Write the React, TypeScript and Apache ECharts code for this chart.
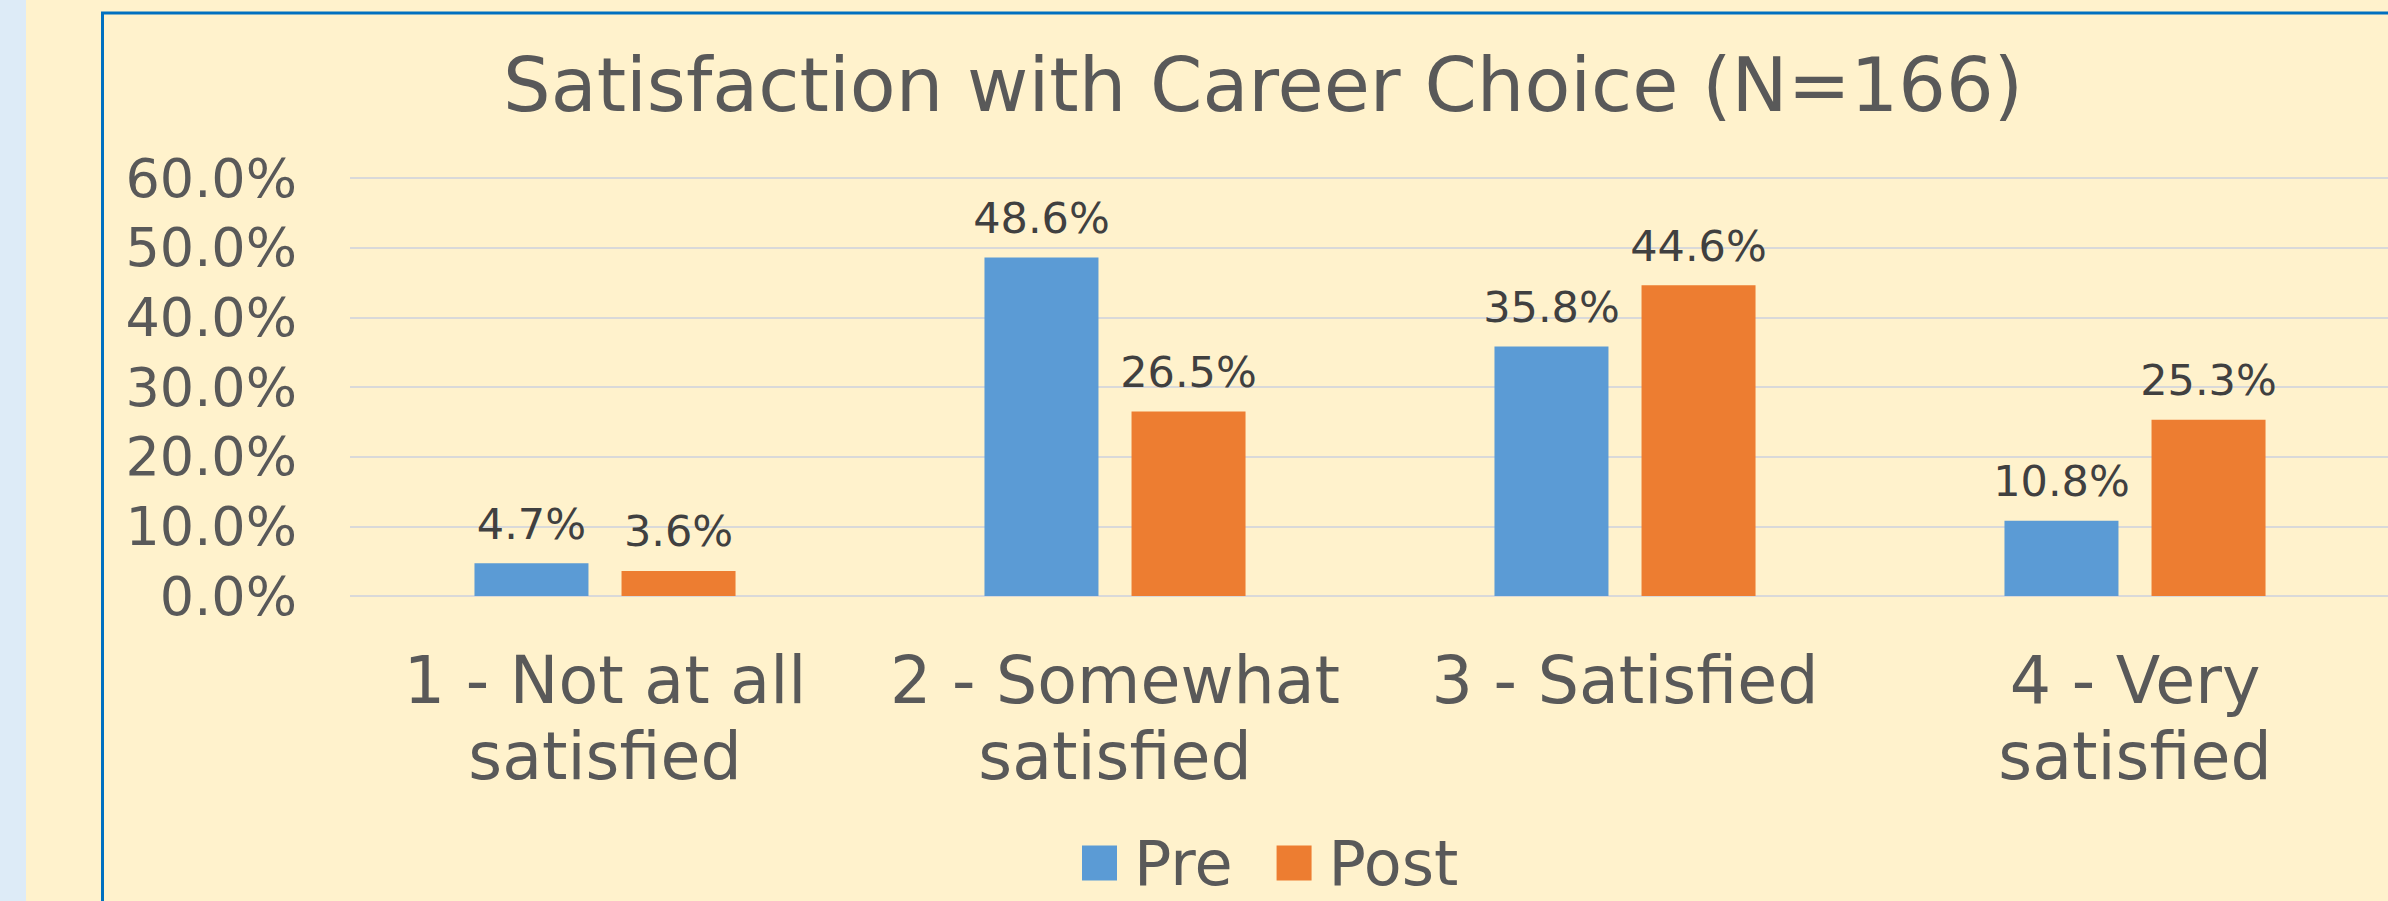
import React, { useEffect, useRef } from "react";
import * as echarts from "echarts";

const titleText = "Satisfaction with Career Choice (N=166)";
const categories = [
  "1 - Not at all\nsatisfied",
  "2 - Somewhat\nsatisfied",
  "3 - Satisfied",
  "4 - Very\nsatisfied",
];
const seriesNames = ["Pre", "Post"];
const preValues = [4.7, 48.6, 35.8, 10.8];
const postValues = [3.6, 26.5, 44.6, 25.3];
const yMin = 0;
const yMax = 60;
const yInterval = 10;

const FONT = "DejaVu Sans";
const TEXT = "#595959";

export default function App() {
  const ref = useRef<HTMLDivElement>(null);
  useEffect(() => {
    document.body.style.margin = "0";
    const chart = echarts.init(ref.current!, null, { renderer: "svg" });
    const labelOpt = {
      show: true,
      position: "top",
      distance: 18,
      fontFamily: FONT,
      fontSize: 43,
      lineHeight: 43,
      color: "#404040",
      formatter: (p: any) => Number(p.value).toFixed(1) + "%",
    };
    chart.setOption({
      animation: false,
      backgroundColor: "#FFF2CC",
      textStyle: { fontFamily: FONT },
      graphic: [
        {
          type: "rect",
          z: -10,
          shape: { x: 0, y: 0, width: 26, height: 901 },
          style: { fill: "#DDEBF7" },
        },
        {
          type: "rect",
          z: -5,
          shape: { x: 102.5, y: 13, width: 2400, height: 1000 },
          style: { fill: "none", stroke: "#0070C0", lineWidth: 3 },
        },
        {
          type: "text",
          x: 1263,
          y: 85,
          style: {
            text: titleText,
            font: `75px "${FONT}"`,
            fill: TEXT,
            textAlign: "center",
            textVerticalAlign: "middle",
          },
        },
      ],
      legend: {
        data: seriesNames,
        left: 1082,
        top: 832,
        padding: 0,
        itemWidth: 35,
        itemHeight: 35,
        itemGap: 44,
        icon: "rect",
        textStyle: {
          fontFamily: FONT,
          fontSize: 62,
          lineHeight: 62,
          color: TEXT,
          padding: [0, 0, 0, 12],
        },
      },
      grid: {
        left: 350,
        top: 178,
        width: 2040,
        height: 418,
        containLabel: false,
        outerBoundsMode: "none",
      },
      xAxis: {
        type: "category",
        data: categories,
        axisLine: { show: false },
        axisTick: { show: false },
        axisLabel: {
          interval: 0,
          margin: 46,
          fontFamily: FONT,
          fontSize: 65,
          lineHeight: 76,
          color: TEXT,
        },
      },
      yAxis: {
        type: "value",
        min: yMin,
        max: yMax,
        interval: yInterval,
        axisLine: { show: false },
        axisTick: { show: false },
        splitLine: { lineStyle: { color: "#D9D9D9", width: 2 } },
        axisLabel: {
          margin: 53,
          fontFamily: FONT,
          fontSize: 54,
          color: TEXT,
          formatter: (v: number) => v.toFixed(1) + "%",
        },
      },
      series: [
        {
          name: seriesNames[0],
          type: "bar",
          data: preValues,
          barWidth: 114,
          barGap: "29%",
          itemStyle: { color: "#5B9BD5" },
          label: labelOpt,
        },
        {
          name: seriesNames[1],
          type: "bar",
          data: postValues,
          barWidth: 114,
          barGap: "29%",
          itemStyle: { color: "#ED7D31" },
          label: labelOpt,
        },
      ],
    });
    return () => chart.dispose();
  }, []);
  return (
    <div
      ref={ref}
      style={{ position: "fixed", left: 0, top: 0, width: 2388, height: 901 }}
    />
  );
}
